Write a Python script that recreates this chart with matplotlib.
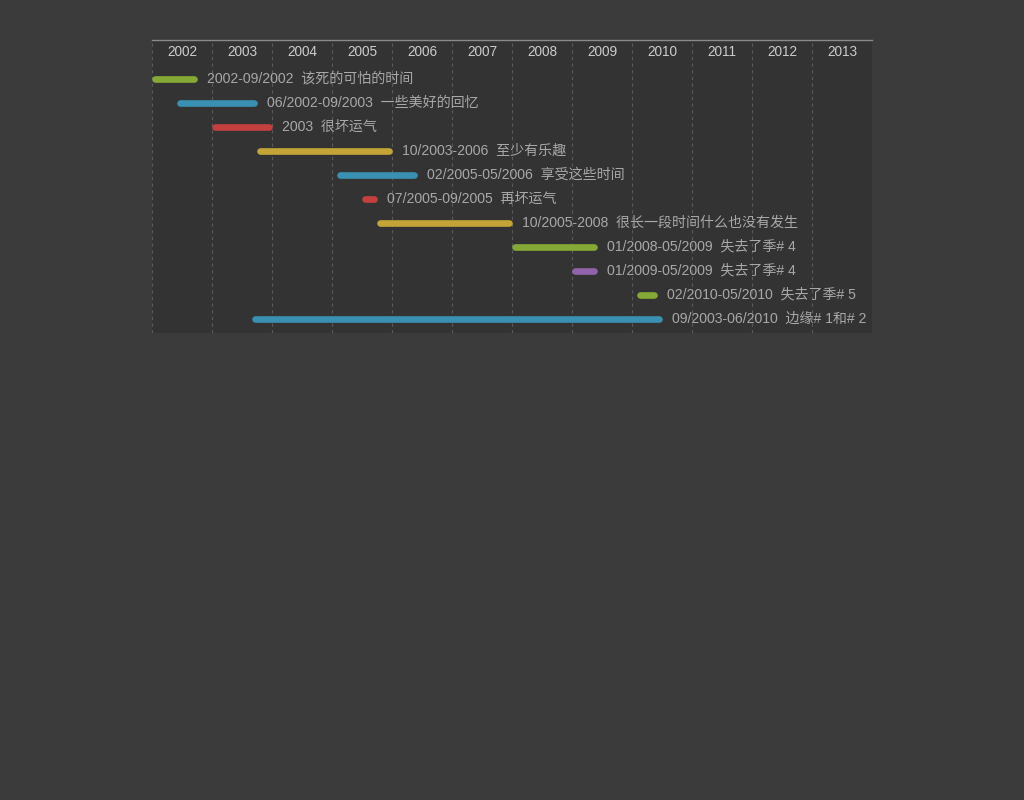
import matplotlib
matplotlib.use('Agg')
import matplotlib.pyplot as plt
import numpy as np

plt.rcParams['font.family'] = ['Liberation Sans', 'Noto Sans CJK SC', 'DejaVu Sans']

# timeline data (fractional years)
starts = [2002.0, 2002.417, 2003.0, 2003.75, 2005.083, 2005.5, 2005.75, 2008.0, 2009.0, 2010.083, 2003.667]
ends = [2002.75, 2003.75, 2004.0, 2006.0, 2006.417, 2005.75, 2008.0, 2009.417, 2009.417, 2010.417, 2010.5]
dates = ['2002-09/2002', '06/2002-09/2003', '2003', '10/2003-2006', '02/2005-05/2006',
         '07/2005-09/2005', '10/2005-2008', '01/2008-05/2009', '01/2009-05/2009',
         '02/2010-05/2010', '09/2003-06/2010']
names = ['该死的可怕的时间', '一些美好的回忆', '很坏运气', '至少有乐趣', '享受这些时间',
         '再坏运气', '很长一段时间什么也没有发生', '失去了季# 4', '失去了季# 4',
         '失去了季# 5', '边缘# 1和# 2']
colors = ['#84a936', '#3a90b2', '#c4403f', '#c4a436', '#3a90b2', '#c4403f',
          '#c4a436', '#84a936', '#9163ab', '#84a936', '#3a90b2']
years = list(range(2002, 2014))

fig = plt.figure(figsize=(10.24, 8), dpi=100)
fig.patch.set_facecolor('#3b3b3b')
ax = fig.add_axes([152/1024, 1 - 333/800, 720/1024, 293/800])
ax.set_facecolor('#333333')

ax.set_xlim(2002, 2014)
ax.set_ylim(10.583, -1.625)

# dashed year separators
for yr in years:
    ax.axvline(yr, color='#5a5a5a', lw=0.8, ls=(0, (3, 3)), zorder=1)

# year labels inside the top band
for yr in years:
    ax.text(yr + 0.5, -1.17, str(yr), color='#cccccc', fontsize=9.8,
            ha='center', va='center_baseline')

pad = 0.05  # half the cap width in years
for i in range(len(starts)):
    ax.plot([starts[i] + pad, ends[i] - pad], [i, i], color=colors[i], lw=4.8,
            solid_capstyle='round', zorder=3)
    ax.text(ends[i] + 0.167, i - 0.08, dates[i] + '  ' + names[i], color='#a8a8a8',
            fontsize=10.1, ha='left', va='center_baseline')

ax.set_xticks([])
ax.set_yticks([])
for s in ['left', 'right', 'bottom']:
    ax.spines[s].set_visible(False)
ax.spines['top'].set_color('#8a8a8a')
ax.spines['top'].set_linewidth(1)

fig.savefig('out.png', dpi=100, facecolor=fig.get_facecolor())
